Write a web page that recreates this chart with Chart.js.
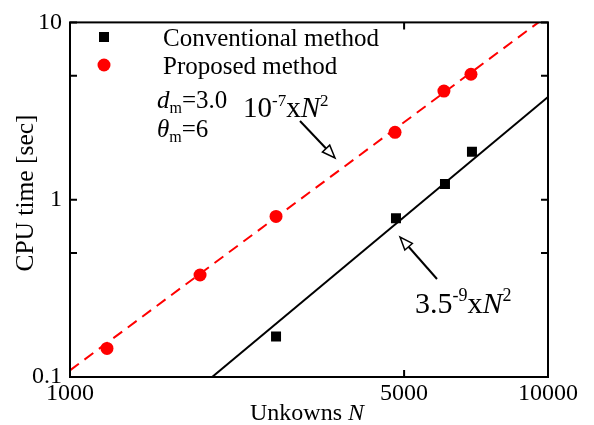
<!DOCTYPE html>
<html>
<head>
<meta charset="utf-8">
<script src="https://cdn.jsdelivr.net/npm/chart.js@4.4.1/dist/chart.umd.min.js"></script>
<style>
html,body{margin:0;padding:0;background:#fff;}
canvas{display:block;}
</style>
</head>
<body>
<canvas id="c" width="594" height="425"></canvas>
<script>
// ---- data ----
const propN = [1195, 1871, 2698, 4786, 6057, 6900];
const propT = [0.145, 0.376, 0.805, 2.40, 4.10, 5.10];
const convN = [2698, 4808, 6088, 6933];
const convT = [0.169, 0.785, 1.225, 1.866];
const fitPropN = [1000, 9550];
const fitPropT = [0.109, 10];
const fitConvN = [1983, 10000];
const fitConvT = [0.1, 3.8];
const xTicks = [1000, 5000, 10000];
const xTickLabels = ['1000', '5000', '10000'];
const yTicks = [0.1, 0.5, 1, 5, 10];
const yTickLabels = ['0.1', '', '1', '', '10'];

const SERIF = '"Liberation Serif", "Times New Roman", serif';
const pts = (xs, ys) => xs.map((x, i) => ({x: x, y: ys[i]}));

function drawRuns(ctx, x, y, runs) {
  ctx.textAlign = 'left';
  ctx.textBaseline = 'alphabetic';
  for (const r of runs) {
    ctx.font = r.f;
    ctx.fillText(r.t, x, y + (r.dy || 0));
    x += ctx.measureText(r.t).width + (r.k || 0);
  }
}
function arrow(ctx, x0, y0, x1, y1) {
  const a = Math.atan2(y1 - y0, x1 - x0);
  const L = 13, W = 5;
  const bx = x1 - L * Math.cos(a), by = y1 - L * Math.sin(a);
  ctx.save();
  ctx.strokeStyle = '#000'; ctx.lineWidth = 2;
  ctx.beginPath(); ctx.moveTo(x0, y0); ctx.lineTo(bx, by); ctx.stroke();
  ctx.lineWidth = 1.5;
  ctx.beginPath();
  ctx.moveTo(x1, y1);
  ctx.lineTo(bx + W * Math.sin(a), by - W * Math.cos(a));
  ctx.lineTo(bx - W * Math.sin(a), by + W * Math.cos(a));
  ctx.closePath();
  ctx.fillStyle = '#fff'; ctx.fill(); ctx.stroke();
  ctx.restore();
}

const deco = {
  id: 'deco',
  afterDraw(chart) {
    const ctx = chart.ctx, a = chart.chartArea;
    const xs = chart.scales.x, ys = chart.scales.y;
    ctx.save();
    ctx.strokeStyle = '#000'; ctx.lineWidth = 2;
    ctx.strokeRect(a.left, a.top, a.right - a.left, a.bottom - a.top);
    const tl = 7;
    ctx.beginPath();
    xTicks.forEach(v => {
      const p = xs.getPixelForValue(v);
      ctx.moveTo(p, a.bottom); ctx.lineTo(p, a.bottom - tl);
      ctx.moveTo(p, a.top); ctx.lineTo(p, a.top + tl);
    });
    yTicks.forEach(v => {
      const p = ys.getPixelForValue(v);
      ctx.moveTo(a.left, p); ctx.lineTo(a.left + tl, p);
      ctx.moveTo(a.right, p); ctx.lineTo(a.right - tl, p);
    });
    ctx.stroke();

    ctx.fillStyle = '#000';
    // legend
    const ds = chart.data.datasets;
    ctx.fillStyle = ds[1].pointBackgroundColor;
    ctx.fillRect(104 - 5, 37 - 5, 10, 10);
    ctx.beginPath(); ctx.arc(104, 65, 6.5, 0, Math.PI * 2);
    ctx.fillStyle = ds[0].pointBackgroundColor; ctx.fill();
    ctx.fillStyle = '#000';
    drawRuns(ctx, 163, 46, [{t: ds[1].label, f: '25px ' + SERIF}]);
    drawRuns(ctx, 163, 74, [{t: ds[0].label, f: '25px ' + SERIF}]);
    // parameters
    drawRuns(ctx, 157, 108, [
      {t: 'd', f: 'italic 25px ' + SERIF},
      {t: 'm', f: '16px ' + SERIF, dy: 5},
      {t: '=3.0', f: '25px ' + SERIF}
    ]);
    drawRuns(ctx, 157, 137, [
      {t: 'θ', f: 'italic 25px ' + SERIF},
      {t: 'm', f: '16px ' + SERIF, dy: 5},
      {t: '=6', f: '25px ' + SERIF}
    ]);
    // fit annotations
    drawRuns(ctx, 243, 117, [
      {t: '10', f: '29px ' + SERIF},
      {t: '-7', f: '17px ' + SERIF, dy: -11},
      {t: 'x', f: '29px ' + SERIF},
      {t: 'N', f: 'italic 29px ' + SERIF},
      {t: '2', f: '17px ' + SERIF, dy: -11}
    ]);
    arrow(ctx, 300, 121, 335, 158);
    drawRuns(ctx, 415, 313, [
      {t: '3.5', f: '30px ' + SERIF},
      {t: '-9', f: '18px ' + SERIF, dy: -12},
      {t: 'x', f: '30px ' + SERIF},
      {t: 'N', f: 'italic 30px ' + SERIF},
      {t: '2', f: '18px ' + SERIF, dy: -12}
    ]);
    arrow(ctx, 437, 279, 400, 237);
    // axis titles
    ctx.font = '24px ' + SERIF;
    const w1 = ctx.measureText('Unkowns ').width;
    ctx.font = 'italic 24px ' + SERIF;
    const w2 = ctx.measureText('N').width;
    const cx = (a.left + a.right) / 2 - 2;
    drawRuns(ctx, cx - (w1 + w2) / 2, 420, [
      {t: 'Unkowns ', f: '24px ' + SERIF},
      {t: 'N', f: 'italic 24px ' + SERIF}
    ]);
    ctx.translate(33, 193);
    ctx.rotate(-Math.PI / 2);
    ctx.font = '25.5px ' + SERIF;
    ctx.textAlign = 'center';
    ctx.textBaseline = 'alphabetic';
    ctx.fillText('CPU time [sec]', 0, 0);
    ctx.restore();
  }
};

new Chart(document.getElementById('c'), {
  type: 'scatter',
  data: {
    datasets: [
      {label: 'Proposed method', data: pts(propN, propT), showLine: false,
       pointStyle: 'circle', pointRadius: 6.5, pointHoverRadius: 6.5,
       pointBackgroundColor: '#ff0000', pointBorderWidth: 0, order: 0},
      {label: 'Conventional method', data: pts(convN, convT), showLine: false,
       pointStyle: 'rect', pointRadius: 7.07, pointHoverRadius: 7.07,
       pointBackgroundColor: '#000000', pointBorderWidth: 0, order: 0},
      {label: 'fit proposed', data: pts(fitPropN, fitPropT), showLine: true,
       borderColor: '#ff0000', borderWidth: 2, borderDash: [11, 7],
       pointRadius: 0, order: 1},
      {label: 'fit conventional', data: pts(fitConvN, fitConvT), showLine: true,
       borderColor: '#000000', borderWidth: 2, pointRadius: 0, order: 1}
    ]
  },
  options: {
    responsive: false,
    animation: false,
    devicePixelRatio: 1,
    layout: {padding: {left: 0, right: 46, top: 15, bottom: 0}},
    plugins: {legend: {display: false}, tooltip: {enabled: false}, title: {display: false}},
    scales: {
      x: {
        type: 'logarithmic', min: 1000, max: 10000,
        afterBuildTicks: s => { s.ticks = xTicks.map(v => ({value: v})); },
        afterFit: s => { s.height = 48; },
        grid: {display: false, drawTicks: false},
        border: {display: false},
        ticks: {
          autoSkip: false, maxRotation: 0, padding: 2, color: '#000',
          font: {family: SERIF, size: 24},
          callback: (v) => { const i = xTicks.indexOf(v); return i >= 0 ? xTickLabels[i] : ''; }
        }
      },
      y: {
        type: 'logarithmic', min: 0.1, max: 10,
        afterBuildTicks: s => { s.ticks = yTicks.map(v => ({value: v})); },
        afterFit: s => { s.width = 70; },
        grid: {display: false, drawTicks: false},
        border: {display: false},
        ticks: {
          autoSkip: false, padding: 8, color: '#000',
          font: {family: SERIF, size: 24},
          callback: (v) => { const i = yTicks.indexOf(v); return i >= 0 ? yTickLabels[i] : ''; }
        }
      }
    }
  },
  plugins: [deco]
});
</script>
</body>
</html>
